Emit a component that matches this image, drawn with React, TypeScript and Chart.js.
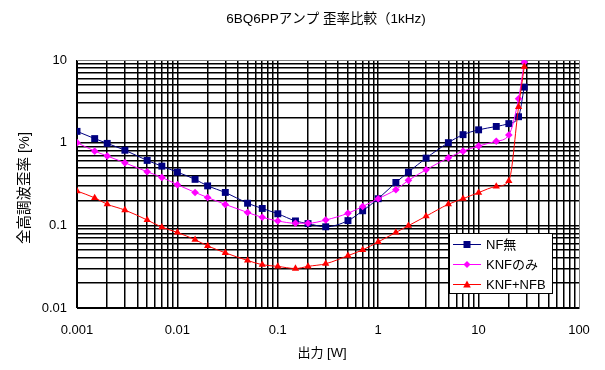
import React, { useEffect, useRef } from 'react';
import { Chart, registerables } from 'chart.js';

Chart.register(...registerables);

// ---- data ----
const outputW = [0.001, 0.0015, 0.002, 0.003, 0.005, 0.007, 0.01, 0.015, 0.02, 0.03, 0.05, 0.07, 0.1, 0.15, 0.2, 0.3, 0.5, 0.7, 1, 1.5, 2, 3, 5, 7, 10, 15, 20, 25, 28.5];
const nfNone = [1.37, 1.12, 0.98, 0.81, 0.61, 0.52, 0.44, 0.36, 0.30, 0.25, 0.185, 0.16, 0.138, 0.113, 0.105, 0.096, 0.114, 0.15, 0.21, 0.33, 0.44, 0.65, 1.0, 1.25, 1.43, 1.57, 1.70, 2.06, 4.7];
const knfOnly = [1.0, 0.79, 0.69, 0.57, 0.445, 0.38, 0.31, 0.25, 0.217, 0.179, 0.143, 0.125, 0.113, 0.106, 0.106, 0.116, 0.14, 0.169, 0.21, 0.27, 0.35, 0.47, 0.655, 0.79, 0.91, 1.04, 1.24, 3.4, 9.4];
const knfNfb = [0.26, 0.215, 0.18, 0.153, 0.116, 0.095, 0.082, 0.067, 0.0565, 0.0465, 0.0376, 0.0334, 0.0319, 0.030, 0.0319, 0.0343, 0.043, 0.0505, 0.063, 0.082, 0.099, 0.129, 0.18, 0.21, 0.249, 0.295, 0.345, 2.7, 8.3];

const xDecades = [0.001, 0.01, 0.1, 1, 10, 100];
const xTickLabels = ['0.001', '0.01', '0.1', '1', '10', '100'];
const yDecades = [0.01, 0.1, 1, 10];
const yTickLabels = ['0.01', '0.1', '1', '10'];

const chartTitle = '6BQ6PPアンプ 歪率比較（1kHz)';
const xTitle = '出力 [W]';
const yTitle = '全高調波歪率 [%]';
const seriesNames = ['NF無', 'KNFのみ', 'KNF+NFB'];
const seriesColors = ['#000080', '#FF00FF', '#FF0000'];

const FONT = '"Liberation Sans", Arial, "Noto Sans CJK JP", sans-serif';

function gridValues(decades: number[]) {
  const out: number[] = [];
  for (let i = 0; i < decades.length; i++) {
    out.push(decades[i]);
    if (i < decades.length - 1) {
      for (let m = 2; m <= 9; m++) out.push(Number((decades[i] * m).toPrecision(6)));
    }
  }
  return out;
}

function labelFor(v: number, decades: number[], labels: string[]) {
  for (let i = 0; i < decades.length; i++) {
    if (Math.abs(v / decades[i] - 1) < 1e-6) return labels[i];
  }
  return '';
}

function isMax(v: number, decades: number[]) {
  return Math.abs(v / decades[decades.length - 1] - 1) < 1e-6;
}

function drawMarker(ctx: CanvasRenderingContext2D, kind: number, x: number, y: number, color: string) {
  ctx.fillStyle = color;
  ctx.beginPath();
  if (kind === 0) {
    ctx.rect(x - 3.5, y - 3.5, 7, 7);
  } else if (kind === 1) {
    ctx.moveTo(x - 3.5, y);
    ctx.lineTo(x, y - 3.5);
    ctx.lineTo(x + 3.5, y);
    ctx.lineTo(x, y + 3.5);
    ctx.closePath();
  } else {
    ctx.moveTo(x, y - 4);
    ctx.lineTo(x + 3.8, y + 3);
    ctx.lineTo(x - 3.8, y + 3);
    ctx.closePath();
  }
  ctx.fill();
}

const decorPlugin = {
  id: 'decor',
  beforeDatasetsDraw(chart: any) {
    const { ctx, chartArea: a } = chart;
    ctx.save();
    ctx.strokeStyle = '#808080';
    ctx.lineWidth = 1;
    ctx.beginPath();
    ctx.moveTo(Math.round(a.left), Math.round(a.top) + 0.5);
    ctx.lineTo(Math.round(a.right) + 0.5, Math.round(a.top) + 0.5);
    ctx.lineTo(Math.round(a.right) + 0.5, Math.round(a.bottom));
    ctx.stroke();
    ctx.restore();
  },
  afterDraw(chart: any) {
    const { ctx, chartArea: a } = chart;
    ctx.save();
    ctx.fillStyle = '#000';
    ctx.font = `13.5px ${FONT}`;
    ctx.textAlign = 'center';
    ctx.textBaseline = 'middle';
    ctx.fillText(chartTitle, 326, 19);
    ctx.font = `13px ${FONT}`;
    ctx.fillText(xTitle, 322, 353);
    ctx.save();
    ctx.translate(25, 188);
    ctx.rotate(-Math.PI / 2);
    ctx.font = `14.5px ${FONT}`;
    ctx.fillText(yTitle, 0, 0);
    ctx.restore();

    // legend
    const bx = 449, by = 233, bw = 103, bh = 60;
    ctx.fillStyle = '#fff';
    ctx.fillRect(bx, by, bw, bh);
    ctx.strokeStyle = '#000';
    ctx.lineWidth = 1;
    ctx.strokeRect(bx + 0.5, by + 0.5, bw, bh);
    for (let i = 0; i < seriesNames.length; i++) {
      const ry = by + 11 + i * 20;
      ctx.strokeStyle = seriesColors[i];
      ctx.beginPath();
      ctx.moveTo(453, ry + 0.5);
      ctx.lineTo(481, ry + 0.5);
      ctx.stroke();
      drawMarker(ctx, i, 467, ry + 0.5, seriesColors[i]);
      ctx.fillStyle = '#000';
      ctx.textAlign = 'left';
      ctx.font = `13px ${FONT}`;
      ctx.fillText(seriesNames[i], 486, ry + 1);
    }
    ctx.restore();
  },
};

export default function App() {
  const ref = useRef<HTMLCanvasElement | null>(null);

  useEffect(() => {
    document.body.style.margin = '0';
    const canvas = ref.current;
    if (!canvas) return;
    const mk = (vals: number[]) => outputW.map((x, i) => ({ x, y: vals[i] }));
    const xGrid = gridValues(xDecades);
    const yGrid = gridValues(yDecades);

    const chart = new Chart(canvas, {
      type: 'line',
      data: {
        datasets: [
          {
            label: seriesNames[0],
            data: mk(nfNone),
            borderColor: seriesColors[0],
            backgroundColor: seriesColors[0],
            borderWidth: 1,
            pointStyle: 'rect',
            pointRadius: 4.9,
            pointBorderWidth: 0,
            cubicInterpolationMode: 'monotone',
            order: 3,
          },
          {
            label: seriesNames[1],
            data: mk(knfOnly),
            borderColor: seriesColors[1],
            backgroundColor: seriesColors[1],
            borderWidth: 1,
            pointStyle: 'rectRot',
            pointRadius: 3.8,
            pointBorderWidth: 0,
            cubicInterpolationMode: 'monotone',
            order: 2,
          },
          {
            label: seriesNames[2],
            data: mk(knfNfb),
            borderColor: seriesColors[2],
            backgroundColor: seriesColors[2],
            borderWidth: 1,
            pointStyle: 'triangle',
            pointRadius: 4.2,
            pointBorderWidth: 0,
            cubicInterpolationMode: 'monotone',
            order: 1,
          },
        ],
      },
      options: {
        animation: false,
        responsive: false,
        maintainAspectRatio: false,
        layout: { padding: { left: 0, top: 60, right: 26, bottom: 0 } },
        plugins: {
          legend: { display: false },
          title: { display: false },
          tooltip: { enabled: false },
        },
        scales: {
          x: {
            type: 'logarithmic',
            min: 0.001,
            max: 100,
            afterBuildTicks: (scale: any) => {
              scale.ticks = xGrid.map((v) => ({ value: v }));
            },
            afterFit: (scale: any) => {
              scale.height = 62;
            },
            grid: {
              color: (c: any) => (c.tick && isMax(c.tick.value, xDecades) ? 'rgba(0,0,0,0)' : '#000'),
              lineWidth: 1.5,
              drawTicks: false,
            },
            border: { display: true, color: '#000', width: 1 },
            ticks: {
              autoSkip: false,
              maxRotation: 0,
              padding: 15,
              color: '#000',
              font: { family: FONT, size: 13 },
              callback: (v: any) => labelFor(Number(v), xDecades, xTickLabels),
            },
          },
          y: {
            type: 'logarithmic',
            min: 0.01,
            max: 10,
            afterBuildTicks: (scale: any) => {
              scale.ticks = yGrid.map((v) => ({ value: v }));
            },
            afterFit: (scale: any) => {
              scale.width = 77;
            },
            grid: {
              color: (c: any) => (c.tick && isMax(c.tick.value, yDecades) ? 'rgba(0,0,0,0)' : '#000'),
              lineWidth: 1.5,
              drawTicks: false,
            },
            border: { display: true, color: '#000', width: 1 },
            ticks: {
              autoSkip: false,
              padding: 10,
              color: '#000',
              font: { family: FONT, size: 13 },
              callback: (v: any) => labelFor(Number(v), yDecades, yTickLabels),
            },
          },
        },
      },
      plugins: [decorPlugin],
    } as any);

    return () => chart.destroy();
  }, []);

  return (
    <div style={{ position: 'fixed', left: 0, top: 0, width: 605, height: 370, background: '#fff' }}>
      <canvas ref={ref} width={605} height={370} style={{ display: 'block', width: 605, height: 370 }} />
    </div>
  );
}
